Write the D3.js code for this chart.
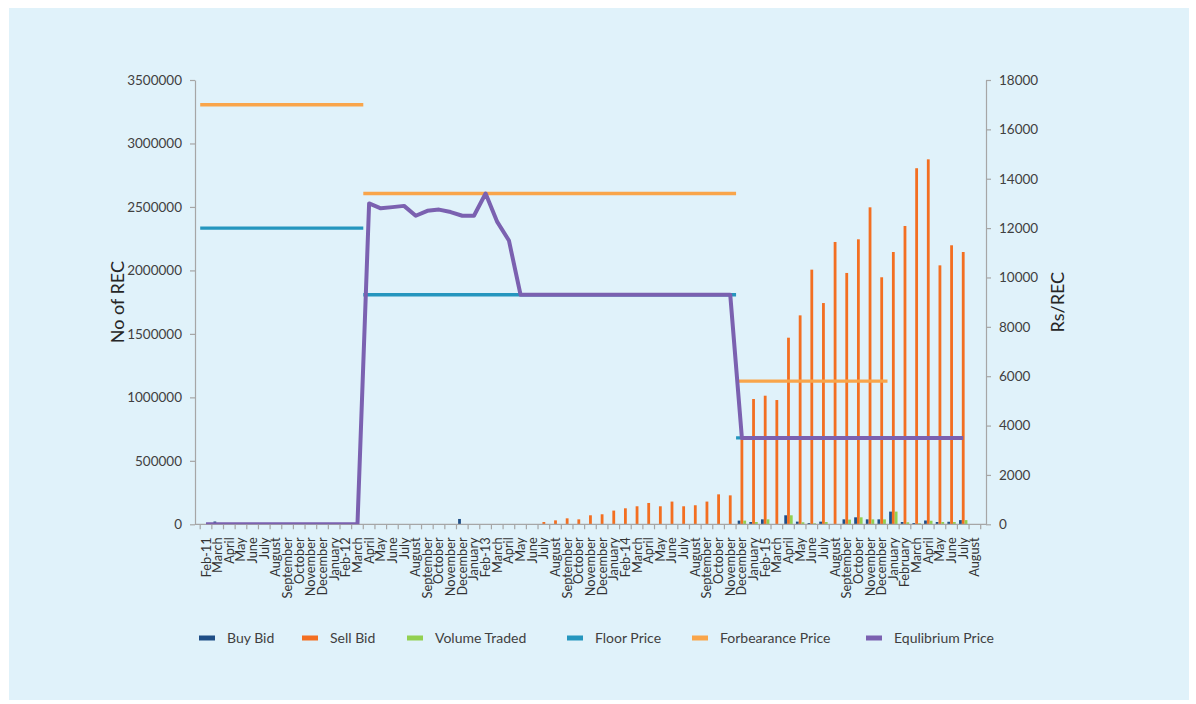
<!DOCTYPE html>
<html>
<head>
<meta charset="utf-8">
<script src="https://cdn.jsdelivr.net/npm/d3@7"></script>
<style>
  html, body { margin: 0; padding: 0; background: #ffffff; }
  svg { display: block; font-family: Lato, "Liberation Sans", sans-serif; }
</style>
</head>
<body>
<svg id="chart" width="1196" height="704"></svg>
<script>
// Monthly REC market sessions, Feb 2011 - Aug 2016
const months = [
  "Feb-11","March","April","May","June","July","August","September","October","November","December",
  "January","Feb-12","March","April","May","June","July","August","September","October","November","December",
  "January","Feb-13","March","April","May","June","July","August","September","October","November","December",
  "January","Feb-14","March","April","May","June","July","August","September","October","November","December",
  "January","Feb-15","March","April","May","June","July","August","September","October","November","December",
  "January","February","March","April","May","June","July","August"
];

// Bids and traded volume (No of REC)
const buyBid = [
  0, 22000, 0, 0, 0, 0, 0, 0, 0, 0, 0,
  0, 0, 0, 0, 0, 0, 0, 0, 0, 0, 0, 42000,
  0, 0, 0, 0, 0, 0, 0, 0, 0, 0, 0, 0,
  0, 0, 0, 0, 0, 0, 0, 0, 0, 0, 0, 29000,
  18000, 39000, 0, 71000, 21000, 10000, 21000, 0, 39000, 55000, 39000, 39000,
  100000, 18000, 10000, 30000, 18000, 20000, 33000, null
];
const sellBid = [
  0, 0, 0, 0, 0, 0, 0, 0, 0, 0, 0,
  0, 0, 0, 0, 0, 0, 0, 0, 0, 0, 0, 0,
  0, 0, 0, 0, 0, 0, 18000, 31000, 47000, 39000, 71000, 79000,
  108000, 126000, 142000, 168000, 142000, 179000, 142000, 150000, 179000, 236000, 228000, 680000,
  987000, 1013000, 979000, 1470000, 1646000, 2006000, 1743000, 2224000, 1980000, 2245000, 2497000, 1946000,
  2145000, 2350000, 2805000, 2875000, 2040000, 2198000, 2145000, null
];
const volumeTraded = [
  0, 0, 0, 0, 0, 0, 0, 0, 0, 0, 0,
  0, 0, 0, 0, 0, 0, 0, 0, 0, 0, 0, 0,
  0, 0, 0, 0, 0, 0, 0, 0, 0, 0, 0, 0,
  0, 0, 0, 0, 0, 0, 0, 0, 0, 0, 0, 29000,
  18000, 39000, 0, 71000, 16000, 8000, 18000, 0, 37000, 55000, 39000, 39000,
  100000, 16000, 8000, 28000, 18000, 18000, 33000, null
];

// Prices (Rs/REC)
const floorPrice = [
  12000, 12000, 12000, 12000, 12000, 12000, 12000, 12000, 12000, 12000, 12000,
  12000, 12000, 12000, 9300, 9300, 9300, 9300, 9300, 9300, 9300, 9300, 9300,
  9300, 9300, 9300, 9300, 9300, 9300, 9300, 9300, 9300, 9300, 9300, 9300,
  9300, 9300, 9300, 9300, 9300, 9300, 9300, 9300, 9300, 9300, 9300, 3500,
  3500, 3500, 3500, 3500, 3500, 3500, 3500, 3500, 3500, null, null, null,
  null, null, null, null, null, null, null, null
];
const forbearancePrice = [
  17000, 17000, 17000, 17000, 17000, 17000, 17000, 17000, 17000, 17000, 17000,
  17000, 17000, 17000, 13400, 13400, 13400, 13400, 13400, 13400, 13400, 13400, 13400,
  13400, 13400, 13400, 13400, 13400, 13400, 13400, 13400, 13400, 13400, 13400, 13400,
  13400, 13400, 13400, 13400, 13400, 13400, 13400, 13400, 13400, 13400, 13400, 5800,
  5800, 5800, 5800, 5800, 5800, 5800, 5800, 5800, 5800, 5800, 5800, 5800,
  null, null, null, null, null, null, null, null
];
const equilibriumPrice = [
  0, 0, 0, 0, 0, 0, 0, 0, 0, 0, 0,
  0, 0, 0, 13000, 12800, 12850, 12900, 12500, 12700, 12750, 12650, 12500,
  12500, 13400, 12250, 11500, 9300, 9300, 9300, 9300, 9300, 9300, 9300, 9300,
  9300, 9300, 9300, 9300, 9300, 9300, 9300, 9300, 9300, 9300, 9300, 3500,
  3500, 3500, 3500, 3500, 3500, 3500, 3500, 3500, 3500, 3500, 3500, 3500,
  3500, 3500, 3500, 3500, 3500, 3500, 3500, null
];

const leftTicks = [0, 500000, 1000000, 1500000, 2000000, 2500000, 3000000, 3500000];
const rightTicks = [0, 2000, 4000, 6000, 8000, 10000, 12000, 14000, 16000, 18000];

const legendItems = [
  { name: "Buy Bid", color: "#1f4e86" },
  { name: "Sell Bid", color: "#f36f21" },
  { name: "Volume Traded", color: "#92d050" },
  { name: "Floor Price", color: "#2596be" },
  { name: "Forbearance Price", color: "#f9a54a" },
  { name: "Equlibrium Price", color: "#7b61b0" }
];

// ---------- layout ----------
const svg = d3.select("#chart");
const plot = { left: 195, right: 986, top: 80, bottom: 524.3 };
const axisColor = "#a6a6a6";
const textColor = "#404040";

svg.append("rect")
  .attr("x", 9).attr("y", 8).attr("width", 1180).attr("height", 692)
  .attr("fill", "#e0f2fa");

const n = months.length;
const x = d3.scaleBand().domain(d3.range(n)).range([200.2, 980.7]).padding(0);
const bw = x.bandwidth();
const yL = d3.scaleLinear().domain([0, 3500000]).range([plot.bottom, plot.top]);
const yR = d3.scaleLinear().domain([0, 18000]).range([plot.bottom, plot.top]);

svg.append("defs").append("clipPath").attr("id", "plotClip")
  .append("rect")
  .attr("x", plot.left).attr("y", plot.top)
  .attr("width", plot.right - plot.left).attr("height", plot.bottom - plot.top);

// ---------- bars ----------
const barSeries = [
  { key: "buy", values: buyBid, color: legendItems[0].color },
  { key: "sell", values: sellBid, color: legendItems[1].color },
  { key: "vol", values: volumeTraded, color: legendItems[2].color }
];
const barW = 2.8;
const xs = d3.scaleBand().domain(barSeries.map(s => s.key))
  .range([bw / 2 - 1.5 * barW, bw / 2 + 1.5 * barW]).padding(0);

const barsG = svg.append("g");
barSeries.forEach(s => {
  const pts = s.values.map((v, i) => ({ i, v })).filter(d => d.v != null && d.v > 0);
  barsG.append("g").selectAll("rect").data(pts).join("rect")
    .attr("x", d => x(d.i) + xs(s.key))
    .attr("width", xs.bandwidth())
    .attr("y", d => yL(d.v))
    .attr("height", d => yL(0) - yL(d.v))
    .attr("fill", s.color);
});

// ---------- axes ----------
const axesG = svg.append("g");
// x axis line and ticks at category boundaries
axesG.append("line")
  .attr("x1", plot.left).attr("x2", plot.right)
  .attr("y1", plot.bottom).attr("y2", plot.bottom)
  .attr("stroke", axisColor).attr("stroke-width", 1.2);
const bounds = d3.range(n).map(i => x(i)).concat([x(n - 1) + bw]);
axesG.append("g").selectAll("line").data(bounds).join("line")
  .attr("x1", d => d).attr("x2", d => d)
  .attr("y1", plot.bottom).attr("y2", plot.bottom + 5)
  .attr("stroke", axisColor).attr("stroke-width", 1.2);

axesG.append("g").selectAll("text").data(d3.range(n)).join("text")
  .attr("transform", i => `translate(${x(i) + bw / 2},${plot.bottom + 13}) rotate(-90)`)
  .attr("text-anchor", "end")
  .attr("dy", "0.35em")
  .attr("font-size", 12.8)
  .attr("fill", "#333333")
  .text(i => months[i]);

// left axis
const leftAxis = axesG.append("g")
  .attr("transform", `translate(${plot.left},0)`)
  .call(d3.axisLeft(yL).tickValues(leftTicks).tickSize(5).tickSizeOuter(0).tickPadding(8)
    .tickFormat(d3.format("d")));
// right axis
const rightAxis = axesG.append("g")
  .attr("transform", `translate(${plot.right},0)`)
  .call(d3.axisRight(yR).tickValues(rightTicks).tickSize(5).tickSizeOuter(0).tickPadding(8)
    .tickFormat(d3.format("d")));
[leftAxis, rightAxis].forEach(a => {
  a.select(".domain").attr("stroke", axisColor).attr("stroke-width", 1.2);
  a.selectAll(".tick line").attr("stroke", axisColor).attr("stroke-width", 1.2);
  a.selectAll(".tick text").attr("fill", textColor).attr("font-size", 13.5)
    .attr("font-family", "Lato, 'Liberation Sans', sans-serif");
});

// axis titles
svg.append("text")
  .attr("transform", `translate(118,${(plot.top + plot.bottom) / 2}) rotate(-90)`)
  .attr("text-anchor", "middle").attr("dy", "0.35em")
  .attr("font-size", 18).attr("fill", "#262626")
  .text("No of REC");
svg.append("text")
  .attr("transform", `translate(1058,${(plot.top + plot.bottom) / 2}) rotate(-90)`)
  .attr("text-anchor", "middle").attr("dy", "0.35em")
  .attr("font-size", 18).attr("fill", "#262626")
  .text("Rs/REC");

// ---------- price lines ----------
const linesG = svg.append("g").attr("clip-path", "url(#plotClip)");

// regulated price bands: one flat segment per run of equal values
function runs(values) {
  const out = [];
  let start = null;
  values.forEach((v, i) => {
    if (v == null) { if (start != null) { out.push([start, i - 1, values[start]]); start = null; } return; }
    if (start == null) { start = i; return; }
    if (v !== values[start]) { out.push([start, i - 1, values[start]]); start = i; }
  });
  if (start != null) out.push([start, values.length - 1, values[start]]);
  return out;
}
const stepLine = d3.line().x(d => d[0]).y(d => yR(d[1]));
[
  { values: floorPrice, color: legendItems[3].color },
  { values: forbearancePrice, color: legendItems[4].color }
].forEach(s => {
  runs(s.values).forEach(([a, b, v]) => {
    linesG.append("path")
      .attr("d", stepLine([[x(a), v], [x(b) + bw, v]]))
      .attr("fill", "none").attr("stroke", s.color).attr("stroke-width", 3.4);
  });
});

// equilibrium price
const eqLine = d3.line()
  .defined(d => d != null)
  .x((d, i) => x(i) + bw / 2)
  .y(d => yR(d));
linesG.append("path")
  .attr("d", eqLine(equilibriumPrice))
  .attr("fill", "none").attr("stroke", legendItems[5].color)
  .attr("stroke-width", 4).attr("stroke-linejoin", "round");

// ---------- legend ----------
const legendG = svg.append("g").attr("transform", "translate(0,638)");
const legendX = [199, 302, 407, 567, 692, 866];
legendItems.forEach((d, k) => {
  const g = legendG.append("g").attr("transform", `translate(${legendX[k]},0)`);
  g.append("rect").attr("x", 0).attr("y", -2.5).attr("width", 16).attr("height", 5).attr("fill", d.color);
  g.append("text").attr("x", 28).attr("dy", "0.35em")
    .attr("font-size", 14).attr("fill", textColor).text(d.name);
});
</script>
</body>
</html>
